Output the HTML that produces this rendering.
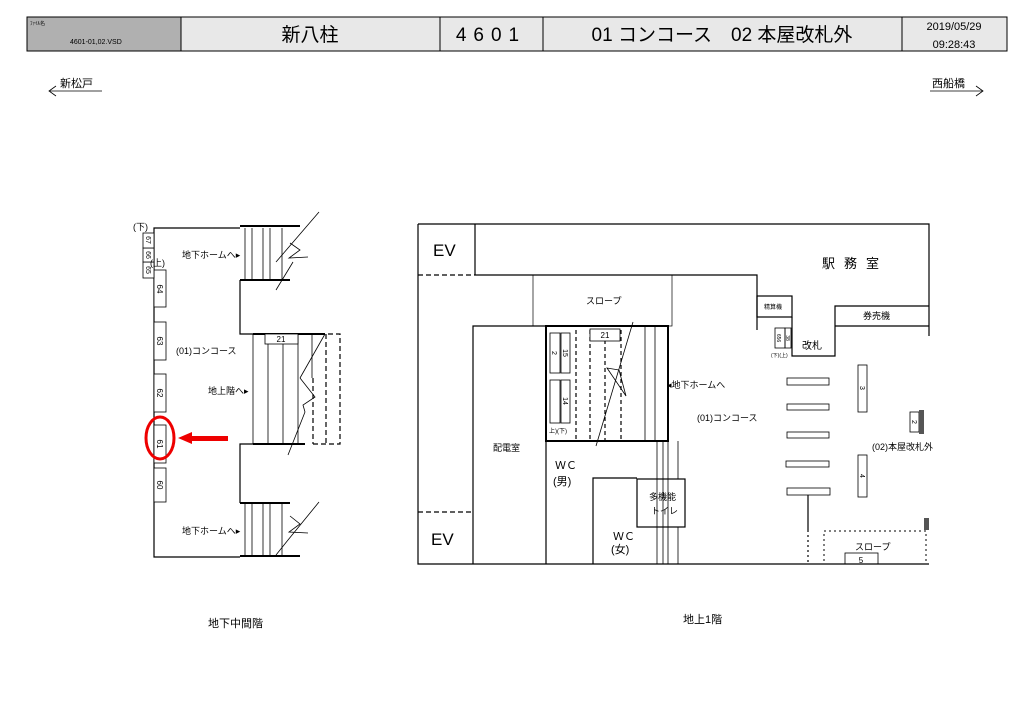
<!DOCTYPE html>
<html><head><meta charset="utf-8"><style>
body{margin:0;background:#fff;}
svg{display:block;font-family:"Liberation Sans","Noto Sans CJK JP",sans-serif;}
</style></head><body>
<svg width="1024" height="724" viewBox="0 0 1024 724" xmlns="http://www.w3.org/2000/svg">
<rect x="27" y="17" width="980" height="34" fill="#e8e8e8" stroke="#000" stroke-width="1"/>
<rect x="27" y="17" width="154" height="34" fill="#b0b0b0" stroke="#000"/>
<line x1="440" y1="17" x2="440" y2="51" stroke="#000"/>
<line x1="543" y1="17" x2="543" y2="51" stroke="#000"/>
<line x1="902" y1="17" x2="902" y2="51" stroke="#000"/>
<text x="30" y="25" font-size="5">ﾌｧｲﾙ名</text>
<text x="70" y="44" font-size="7">4601-01,02.VSD</text>
<text x="310" y="41" font-size="19" text-anchor="middle">新八柱</text>
<text x="491" y="41" font-size="19" text-anchor="middle" letter-spacing="7">4601</text>
<text x="722" y="41" font-size="19" text-anchor="middle">01 コンコース　02 本屋改札外</text>
<text x="954" y="30" font-size="11" text-anchor="middle">2019/05/29</text>
<text x="954" y="48" font-size="11" text-anchor="middle">09:28:43</text>
<text x="60" y="87" font-size="11">新松戸</text>
<line x1="50" y1="91" x2="102" y2="91" stroke="#000" stroke-width="0.8"/>
<polyline points="56,86 49,91 56,96" fill="none" stroke="#000" stroke-width="0.8"/>
<text x="932" y="87" font-size="11">西船橋</text>
<line x1="930" y1="91" x2="983" y2="91" stroke="#000" stroke-width="0.8"/>
<polyline points="976,86 983,91 976,96" fill="none" stroke="#000" stroke-width="0.8"/>

<g stroke="#000" fill="none" stroke-width="1.2">
<polyline points="240,228 154,228 154,557 240,557"/>
<line x1="240" y1="226" x2="300" y2="226" stroke-width="2"/>
<line x1="240" y1="280" x2="290" y2="280" stroke-width="2"/>
<line x1="240" y1="556" x2="300" y2="556" stroke-width="2"/>
<line x1="240" y1="503" x2="290" y2="503" stroke-width="2"/>
<polyline points="240,280 240,334 253,334"/>
<polyline points="240,503 240,444 253,444"/>
<line x1="253" y1="334" x2="325" y2="334" stroke-width="2"/>
<line x1="253" y1="444" x2="305" y2="444" stroke-width="2"/>
<g stroke-width="0.8">
<line x1="245" y1="228" x2="245" y2="280"/><line x1="252" y1="228" x2="252" y2="280"/><line x1="263" y1="228" x2="263" y2="280"/><line x1="270" y1="228" x2="270" y2="280"/><line x1="282" y1="228" x2="282" y2="280"/>
<line x1="245" y1="503" x2="245" y2="556"/><line x1="252" y1="503" x2="252" y2="556"/><line x1="263" y1="503" x2="263" y2="556"/><line x1="270" y1="503" x2="270" y2="556"/><line x1="282" y1="503" x2="282" y2="556"/>
<line x1="253" y1="334" x2="253" y2="444"/><line x1="268" y1="334" x2="268" y2="444"/><line x1="283" y1="334" x2="283" y2="444"/><line x1="298" y1="334" x2="298" y2="444"/><line x1="312" y1="334" x2="312" y2="378"/>
<polyline points="276,262 319,212"/><polyline points="290,243 300,250 289,258 308,257"/><polyline points="276,290 293,262"/>
<polyline points="276,555 288,540 319,502"/><polyline points="290,516 300,524 289,532 308,533"/>
<polyline points="288,455 305,412"/><polyline points="300,378 325,334"/><polyline points="300,378 315,397 303,405 305,412"/>
</g>
<g stroke-dasharray="5,3" stroke-width="1.2">
<polyline points="312,334 340,334 340,444 312,444"/>
<line x1="326" y1="334" x2="326" y2="444"/>
<line x1="313" y1="378" x2="313" y2="444"/>
</g>
<rect x="265" y="334" width="33" height="10" fill="#fff" stroke-width="0.8"/>
<g stroke-width="0.8" fill="#fff">
<rect x="154" y="270" width="12" height="37"/><rect x="154" y="322" width="12" height="38"/><rect x="154" y="374" width="12" height="38"/><rect x="154" y="425" width="12" height="38"/><rect x="154" y="468" width="12" height="34"/>
<rect x="143" y="262" width="11" height="16"/><rect x="143" y="248" width="11" height="14"/><rect x="143" y="233" width="11" height="15"/>
</g>
<ellipse cx="160" cy="438" rx="14" ry="21" stroke="#e00" stroke-width="3"/>

<polyline points="418,224 929,224 929,336"/>
<polyline points="418,224 418,564 929,564"/>
<line x1="475" y1="224" x2="475" y2="275"/>
<line x1="418" y1="275" x2="475" y2="275" stroke-dasharray="5,3"/>
<polyline points="475,275 757,275 757,330"/>
<rect x="757" y="296" width="35" height="21"/>
<polyline points="792,317 792,356 835,356 835,306 929,306"/>
<line x1="835" y1="326" x2="929" y2="326"/>
<rect x="533" y="275" width="139" height="51" stroke-width="0.7"/>
<polyline points="473,564 473,326 546,326"/>
<line x1="418" y1="512" x2="473" y2="512" stroke-dasharray="5,3"/>
<rect x="546" y="326" width="122" height="115" stroke-width="2"/>
<line x1="546" y1="441" x2="546" y2="564"/>
<polyline points="593,564 593,478 637,478"/>
<rect x="637" y="479" width="48" height="48"/>
<g stroke-width="0.8">
<line x1="657" y1="441" x2="657" y2="564"/><line x1="663" y1="441" x2="663" y2="564"/><line x1="668" y1="441" x2="668" y2="564"/><line x1="678" y1="441" x2="678" y2="479"/><line x1="678" y1="527" x2="678" y2="564"/>
<line x1="645" y1="326" x2="645" y2="441"/><line x1="655" y1="326" x2="655" y2="441"/>
<polyline points="596,446 633,322"/><polyline points="619,370 607,368 626,396 619,370"/>
</g>
<g stroke-dasharray="4,3" stroke-width="1.2">
<line x1="576" y1="330" x2="576" y2="441"/><line x1="590" y1="330" x2="590" y2="441"/><line x1="605" y1="340" x2="605" y2="441"/><line x1="621" y1="330" x2="621" y2="441"/><line x1="577" y1="441" x2="596" y2="441"/>
</g>
<rect x="590" y="329" width="30" height="12" stroke-width="0.8" fill="#fff"/>
<g stroke-width="0.8">
<rect x="550" y="333" width="10" height="40"/><rect x="561" y="333" width="9" height="40"/>
<rect x="550" y="380" width="10" height="43"/><rect x="561" y="380" width="9" height="43"/>
<rect x="787" y="378" width="42" height="7"/><rect x="787" y="404" width="42" height="6"/><rect x="787" y="432" width="42" height="6"/><rect x="786" y="461" width="43" height="6"/><rect x="787" y="488" width="43" height="7"/>
<rect x="858" y="365" width="9" height="47"/><rect x="858" y="455" width="9" height="42"/>
<rect x="775" y="328" width="10" height="20"/><rect x="785" y="328" width="6" height="20"/>
<rect x="910" y="412" width="9" height="20"/>
<rect x="845" y="553" width="33" height="11"/>
</g>
<line x1="808" y1="495" x2="808" y2="530"/>
<line x1="808" y1="530" x2="808" y2="564" stroke-dasharray="2,3"/>
<rect x="824" y="531" width="102" height="33" stroke-dasharray="2,3" stroke-width="1"/>
</g>
<rect x="919" y="410" width="5" height="24" fill="#555"/>
<rect x="924" y="518" width="5" height="12" fill="#555"/>
<polygon points="178,438 192,432 192,436 228,436 228,441 192,441 192,444" fill="#e00"/>

<g font-size="9" fill="#000">
<text x="133" y="230">(下)</text><text x="150" y="266">(上)</text>
<text x="182" y="258">地下ホームへ▸</text>
<text x="182" y="534">地下ホームへ▸</text>
<text x="176" y="354">(01)コンコース</text>
<text x="208" y="394">地上階へ▸</text>
<text x="281" y="342" font-size="8" text-anchor="middle">21</text>
<text x="605" y="338" font-size="8" text-anchor="middle">21</text>
<text x="855" y="550" font-size="9">スロープ</text>
<text x="861" y="563" font-size="8" text-anchor="middle">5</text>
<text x="586" y="304">スロープ</text>
<text x="493" y="451">配電室</text>
<text x="667" y="388">◂地下ホームへ</text>
<text x="697" y="421">(01)コンコース</text>
<text x="872" y="450">(02)本屋改札外</text>
<text x="802" y="349" font-size="10">改札</text>
<text x="863" y="319">券売機</text>
<text x="764" y="309" font-size="6">精算機</text>
<text x="771" y="357" font-size="5">(下)(上)</text>
<text x="549" y="433" font-size="6">上)(下)</text>
<text x="555" y="469" font-size="11">ＷＣ</text><text x="553" y="485" font-size="11">(男)</text>
<text x="613" y="540" font-size="11">ＷＣ</text><text x="611" y="553" font-size="11">(女)</text>
<text x="649" y="500">多機能</text><text x="651" y="514">トイレ</text>
<text x="822" y="268" font-size="13" letter-spacing="9">駅務室</text>
<text x="433" y="256" font-size="17">EV</text>
<text x="431" y="545" font-size="17">EV</text>
<text x="208" y="627" font-size="11">地下中間階</text>
<text x="683" y="623" font-size="11">地上1階</text>
</g>
<g font-size="8">
<text transform="translate(157,289) rotate(90)" text-anchor="middle">64</text>
<text transform="translate(157,341) rotate(90)" text-anchor="middle">63</text>
<text transform="translate(157,393) rotate(90)" text-anchor="middle">62</text>
<text transform="translate(157,444) rotate(90)" text-anchor="middle">61</text>
<text transform="translate(157,485) rotate(90)" text-anchor="middle">60</text>
<text transform="translate(146,270) rotate(90)" text-anchor="middle" font-size="7">65</text>
<text transform="translate(146,255) rotate(90)" text-anchor="middle" font-size="7">66</text>
<text transform="translate(146,240) rotate(90)" text-anchor="middle" font-size="7">67</text>
<text transform="translate(552,353) rotate(90)" text-anchor="middle" font-size="7">2</text>
<text transform="translate(563,353) rotate(90)" text-anchor="middle" font-size="7">15</text>
<text transform="translate(563,401) rotate(90)" text-anchor="middle" font-size="7">14</text>
<text transform="translate(860,388) rotate(90)" text-anchor="middle" font-size="7">3</text>
<text transform="translate(860,476) rotate(90)" text-anchor="middle" font-size="7">4</text>
<text transform="translate(912,422) rotate(90)" text-anchor="middle" font-size="7">2</text>
<text transform="translate(777,338) rotate(90)" text-anchor="middle" font-size="5">656</text>
<text transform="translate(786,338) rotate(90)" text-anchor="middle" font-size="5">38</text>
</g>
</svg>
</body></html>
